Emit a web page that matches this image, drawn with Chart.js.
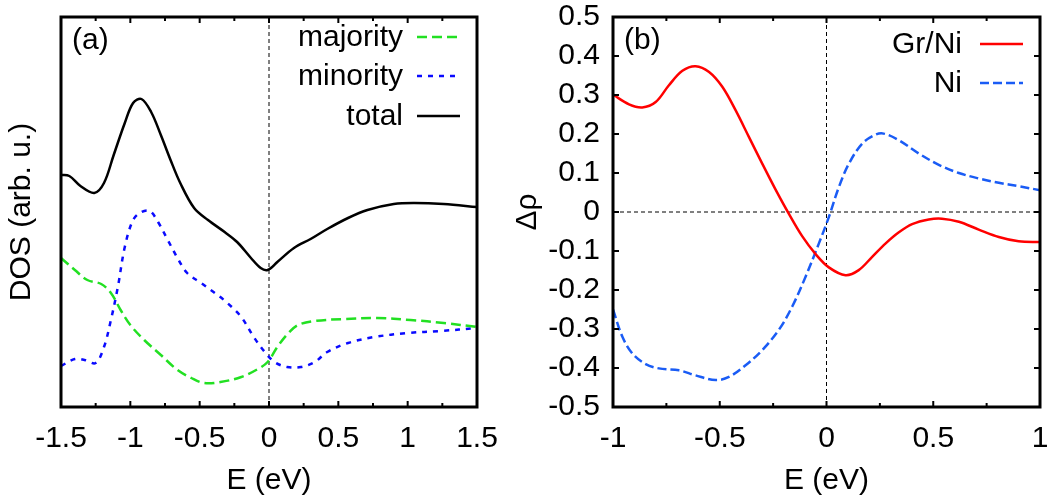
<!DOCTYPE html>
<html><head><meta charset="utf-8">
<script src="https://cdn.jsdelivr.net/npm/chart.js@4/dist/chart.umd.min.js"></script>
<style>
html,body{margin:0;padding:0;background:#fff;width:1054px;height:499px;overflow:hidden}
canvas{position:absolute;left:0;top:0}
</style></head>
<body>
<canvas id="chartA" width="1054" height="499"></canvas>
<canvas id="chartB" width="1054" height="499"></canvas>
<script>
// ---------- Panel (a): DOS (arbitrary units) ----------
const totalE   = [-1.5,-1.44,-1.36,-1.26,-1.19,-1.12,-1.04,-0.98,-0.92,-0.85,-0.78,-0.71,-0.64,-0.54,-0.44,-0.32,-0.23,-0.13,-0.06,-0.01,0.06,0.18,0.30,0.42,0.57,0.71,0.90,1.05,1.26,1.5];
const totalDOS = [2.32,2.31,2.21,2.14,2.24,2.52,2.84,3.04,3.08,2.95,2.72,2.47,2.24,1.99,1.87,1.75,1.65,1.49,1.39,1.37,1.45,1.59,1.68,1.78,1.89,1.97,2.03,2.04,2.03,2.00];
const majE     = [-1.5,-1.40,-1.31,-1.21,-1.14,-1.07,-1.0,-0.90,-0.78,-0.66,-0.56,-0.47,-0.35,-0.20,-0.08,-0.01,0.06,0.14,0.21,0.33,0.54,0.78,1.02,1.26,1.5];
const majDOS   = [1.49,1.37,1.27,1.23,1.14,0.97,0.82,0.67,0.52,0.37,0.29,0.24,0.25,0.30,0.38,0.45,0.60,0.74,0.82,0.86,0.88,0.89,0.87,0.84,0.80];
const minE     = [-1.5,-1.40,-1.33,-1.25,-1.19,-1.14,-1.09,-1.04,-0.98,-0.92,-0.86,-0.80,-0.73,-0.66,-0.59,-0.49,-0.39,-0.30,-0.20,-0.11,-0.03,0.04,0.13,0.23,0.33,0.42,0.57,0.76,1.0,1.24,1.5];
const minDOS   = [0.41,0.48,0.47,0.44,0.60,0.87,1.20,1.60,1.87,1.95,1.96,1.85,1.67,1.49,1.34,1.24,1.14,1.04,0.90,0.70,0.55,0.45,0.40,0.40,0.45,0.55,0.64,0.70,0.74,0.76,0.79];
const xTicksA  = [-1.5,-1,-0.5,0,0.5,1,1.5];
const xRangeA  = [-1.5,1.5];
const yRangeA  = [0,3.9];
const legendA  = ['majority','minority','total'];

// ---------- Panel (b): Δρ ----------
const grE  = [-1,-0.925,-0.863,-0.80,-0.738,-0.675,-0.613,-0.55,-0.488,-0.426,-0.363,-0.301,-0.239,-0.176,-0.114,-0.051,0.011,0.089,0.151,0.214,0.276,0.339,0.401,0.479,0.541,0.62,0.713,0.807,0.90,1];
const grDR = [0.301,0.276,0.268,0.282,0.325,0.362,0.374,0.359,0.321,0.261,0.192,0.124,0.058,-0.005,-0.062,-0.108,-0.142,-0.162,-0.149,-0.115,-0.081,-0.052,-0.031,-0.019,-0.017,-0.025,-0.045,-0.064,-0.075,-0.077];
const niE  = [-1,-0.956,-0.909,-0.847,-0.785,-0.691,-0.613,-0.519,-0.457,-0.379,-0.301,-0.223,-0.161,-0.098,-0.036,0.011,0.058,0.105,0.167,0.229,0.268,0.339,0.432,0.526,0.62,0.713,0.807,0.90,1];
const niDR = [-0.250,-0.320,-0.363,-0.390,-0.401,-0.406,-0.419,-0.431,-0.423,-0.393,-0.354,-0.302,-0.243,-0.166,-0.081,-0.013,0.064,0.124,0.175,0.198,0.201,0.184,0.150,0.121,0.100,0.086,0.075,0.066,0.056];
const xTicksB = [-1,-0.5,0,0.5,1];
const yTicksB = [-0.5,-0.4,-0.3,-0.2,-0.1,0,0.1,0.2,0.3,0.4,0.5];
const xRangeB = [-1,1];
const yRangeB = [-0.5,0.5];
const legendB = ['Gr/Ni','Ni'];

const FONT = "'Liberation Sans', Arial, Helvetica, sans-serif";
Chart.defaults.font.family = FONT;
Chart.defaults.color = '#000';

function curve(label, xs, ys, color, dash, width) {
  return {label, data: xs.map((x,i)=>({x, y: ys[i]})), showLine: true,
    borderColor: color, backgroundColor: color, borderDash: dash, borderWidth: width,
    pointRadius: 0, tension: 0.35, fill: false, order: 1};
}
function zeroLine(points) {
  return {label: '_zero', data: points, showLine: true, borderColor: '#000', borderWidth: 1,
    borderDash: [4,3], pointRadius: 0, tension: 0, fill: false, order: 2};
}
function noPad(s) { s.paddingLeft = 0; s.paddingRight = 0; s.paddingTop = 0; s.paddingBottom = 0; }

const framePlugin = {
  id: 'frame',
  afterDatasetsDraw(chart, args, o) {
    const {ctx, chartArea: ca, scales} = chart;
    const xs = scales.x, ys = scales.y;
    ctx.save();
    ctx.strokeStyle = '#000';
    ctx.lineWidth = 2;
    const seg = (x1,y1,x2,y2)=>{ctx.beginPath();ctx.moveTo(x1,y1);ctx.lineTo(x2,y2);ctx.stroke();};
    const nx = Math.round((xs.max - xs.min)/o.xMinor);
    for (let i=0;i<=nx;i++){
      const p = xs.getPixelForValue(xs.min + i*o.xMinor);
      const len = (i % 2 === 0) ? 6 : 4;
      seg(p, ca.bottom, p, ca.bottom-len);
      seg(p, ca.top, p, ca.top+len);
    }
    if (o.yStep) {
      const ny = Math.round((ys.max - ys.min)/o.yStep);
      for (let i=0;i<=ny;i++){
        const p = ys.getPixelForValue(ys.min + i*o.yStep);
        seg(ca.left, p, ca.left+6, p);
        seg(ca.right, p, ca.right-6, p);
      }
    }
    ctx.lineWidth = 3;
    ctx.strokeRect(ca.left, ca.top, ca.right-ca.left, ca.bottom-ca.top);
    ctx.fillStyle = '#000';
    ctx.font = '30px ' + FONT;
    ctx.textAlign = 'left'; ctx.textBaseline = 'middle';
    ctx.fillText(o.panel, ca.left + 11, 41);
    const dsets = chart.data.datasets.filter(d=>d.label !== '_zero');
    ctx.textAlign = 'right';
    dsets.forEach((d,i)=>{
      const y = o.legY[i];
      ctx.fillText(d.label, o.legText, y+1);
      ctx.save();
      ctx.strokeStyle = d.borderColor; ctx.lineWidth = d.borderWidth;
      ctx.setLineDash(d.borderDash || []);
      seg(o.legX1, y, o.legX2, y);
      ctx.restore();
    });
    ctx.restore();
  }
};

function axisX(range, ticksArr) {
  return {type:'linear', min: range[0], max: range[1],
    afterBuildTicks: s => { s.ticks = ticksArr.map(v=>({value:v})); },
    ticks:{callback: v => String(v), autoSkip:false, maxRotation:0, padding:14, font:{size:30}, color:'#000'},
    grid:{display:false, drawTicks:false}, border:{display:false},
    title:{display:true, text:'E (eV)', font:{size:30}, color:'#000', padding:{top:0,bottom:0}},
    afterFit: s => { s.height = 92; noPad(s); }};
}

new Chart(document.getElementById('chartA'), {
  type: 'scatter',
  data: { datasets: [
    curve(legendA[0], majE, majDOS, '#22e022', [10,5], 2.5),
    curve(legendA[1], minE, minDOS, '#0a0aff', [5,6], 2.5),
    curve(legendA[2], totalE, totalDOS, '#000000', [], 2.5),
    zeroLine([{x:0,y:yRangeA[0]},{x:0,y:yRangeA[1]}])
  ]},
  options: {
    responsive:false, animation:false, events:[],
    layout:{padding:{left:0, top:17, right:577, bottom:0}},
    plugins:{legend:{display:false}, tooltip:{enabled:false},
      frame:{panel:'(a)', xMinor:0.25, legText:403, legX1:417, legX2:460, legY:[37,76,116]}},
    scales:{
      x: axisX(xRangeA, xTicksA),
      y: {type:'linear', min:yRangeA[0], max:yRangeA[1], ticks:{display:false},
        grid:{display:false, drawTicks:false}, border:{display:false},
        title:{display:true, text:'DOS (arb. u.)', font:{size:30}, color:'#000', padding:{top:4,bottom:0}},
        afterFit: s => { s.width = 61; noPad(s); }}
    }
  },
  plugins:[framePlugin]
});

new Chart(document.getElementById('chartB'), {
  type: 'scatter',
  data: { datasets: [
    curve(legendB[0], grE, grDR, '#ff0000', [], 2.5),
    curve(legendB[1], niE, niDR, '#1a5cf5', [9,4], 2.5),
    zeroLine([{x:0,y:yRangeB[0]},{x:0,y:yRangeB[1]}]),
    zeroLine([{x:xRangeB[0],y:0},{x:xRangeB[1],y:0}])
  ]},
  options: {
    responsive:false, animation:false, events:[],
    layout:{padding:{left:500, top:17, right:14, bottom:0}},
    plugins:{legend:{display:false}, tooltip:{enabled:false},
      frame:{panel:'(b)', xMinor:0.25, yStep:0.1, legText:962, legX1:980, legX2:1023, legY:[44,83]}},
    scales:{
      x: axisX(xRangeB, xTicksB),
      y: {type:'linear', min:yRangeB[0], max:yRangeB[1],
        afterBuildTicks: s => { s.ticks = yTicksB.map(v=>({value:v})); },
        ticks:{callback: v => String(v), autoSkip:false, padding:13, font:{size:30}, color:'#000'},
        grid:{display:false, drawTicks:false}, border:{display:false},
        title:{display:true, text:'Δρ', font:{size:30}, color:'#000', padding:{top:10,bottom:0}},
        afterFit: s => { s.width = 113; noPad(s); }}
    }
  },
  plugins:[framePlugin]
});
</script>
</body></html>
